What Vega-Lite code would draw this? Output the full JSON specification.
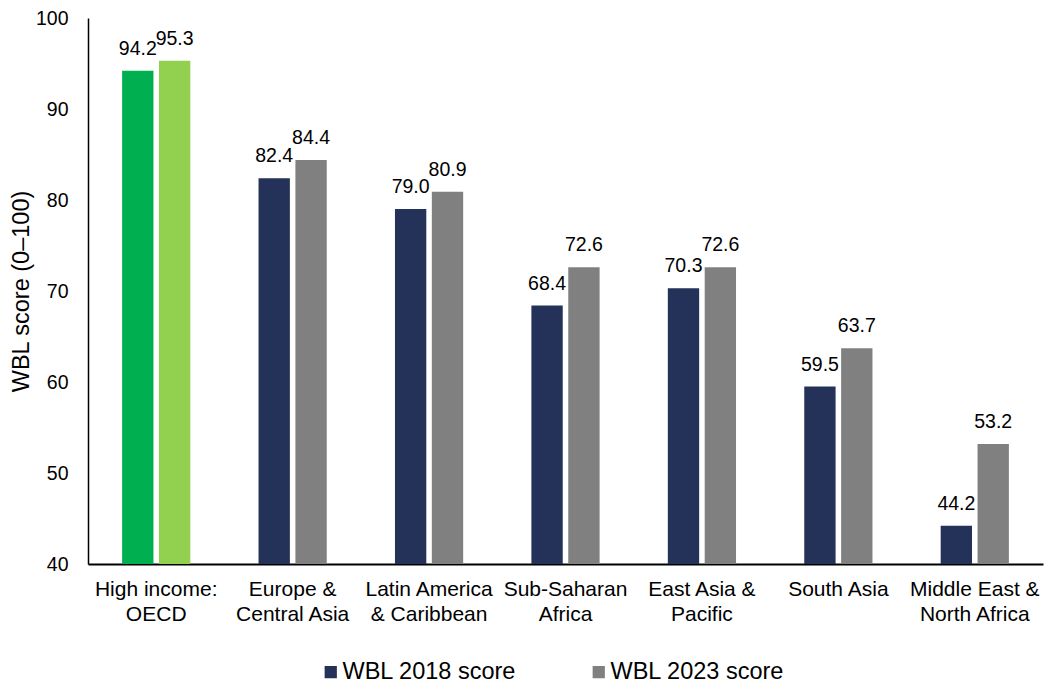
{
  "$schema": "https://vega.github.io/schema/vega-lite/v6.json",
  "width": 955,
  "height": 546,
  "autosize": {"type": "none"},
  "padding": {"left": 88, "top": 18, "right": 3, "bottom": 121},
  "background": "white",
  "config": {
    "font": "Liberation Sans",
    "view": {"stroke": null}
  },
  "data": {
    "values": [
      {"region": "High income: OECD", "series": "WBL 2018 score", "score": 94.2},
      {"region": "High income: OECD", "series": "WBL 2023 score", "score": 95.3},
      {"region": "Europe & Central Asia", "series": "WBL 2018 score", "score": 82.4},
      {"region": "Europe & Central Asia", "series": "WBL 2023 score", "score": 84.4},
      {"region": "Latin America & Caribbean", "series": "WBL 2018 score", "score": 79.0},
      {"region": "Latin America & Caribbean", "series": "WBL 2023 score", "score": 80.9},
      {"region": "Sub-Saharan Africa", "series": "WBL 2018 score", "score": 68.4},
      {"region": "Sub-Saharan Africa", "series": "WBL 2023 score", "score": 72.6},
      {"region": "East Asia & Pacific", "series": "WBL 2018 score", "score": 70.3},
      {"region": "East Asia & Pacific", "series": "WBL 2023 score", "score": 72.6},
      {"region": "South Asia", "series": "WBL 2018 score", "score": 59.5},
      {"region": "South Asia", "series": "WBL 2023 score", "score": 63.7},
      {"region": "Middle East & North Africa", "series": "WBL 2018 score", "score": 44.2},
      {"region": "Middle East & North Africa", "series": "WBL 2023 score", "score": 53.2}
    ]
  },
  "encoding": {
    "x": {
      "field": "region",
      "type": "nominal",
      "sort": null,
      "scale": {"paddingInner": 0.5, "paddingOuter": 0.25},
      "axis": {
        "title": null,
        "labelAngle": 0,
        "labelFontSize": 21,
        "labelColor": "black",
        "labelLineHeight": 25,
        "labelPadding": 14,
        "labelExpr": "{'High income: OECD': ['High income:', 'OECD'], 'Europe & Central Asia': ['Europe &', 'Central Asia'], 'Latin America & Caribbean': ['Latin America', '& Caribbean'], 'Sub-Saharan Africa': ['Sub-Saharan', 'Africa'], 'East Asia & Pacific': ['East Asia &', 'Pacific'], 'South Asia': ['South Asia'], 'Middle East & North Africa': ['Middle East &', 'North Africa']}[datum.value]",
        "ticks": false,
        "domainColor": "black",
        "domainWidth": 2,
        "labelLimit": 200
      }
    },
    "xOffset": {
      "field": "series",
      "type": "nominal",
      "scale": {"paddingInner": 0.15}
    },
    "y": {
      "field": "score",
      "type": "quantitative",
      "scale": {"domain": [40, 100], "zero": false},
      "axis": {
        "title": "WBL score (0–100)",
        "titleFontSize": 23.5,
        "titleFontWeight": "normal",
        "titleColor": "black",
        "titlePadding": 2,
        "values": [40, 50, 60, 70, 80, 90, 100],
        "grid": false,
        "ticks": false,
        "labelFontSize": 19.5,
        "labelColor": "black",
        "labelPadding": 20,
        "domainColor": "black",
        "domainWidth": 1.5
      }
    }
  },
  "layer": [
    {
      "mark": {"type": "bar"},
      "encoding": {
        "y2": {"datum": 40},
        "color": {
          "field": "series",
          "type": "nominal",
          "scale": {
            "domain": ["WBL 2018 score", "WBL 2023 score"],
            "range": ["#243259", "#808080"]
          },
          "condition": [
            {"test": "datum.region === 'High income: OECD' && datum.series === 'WBL 2018 score'", "value": "#00B050"},
            {"test": "datum.region === 'High income: OECD' && datum.series === 'WBL 2023 score'", "value": "#92D050"}
          ],
          "legend": {
            "title": null,
            "orient": "none",
            "direction": "horizontal",
            "legendX": 231,
            "legendY": 642,
            "symbolType": "square",
            "symbolSize": 150,
            "symbolStrokeWidth": 0,
            "labelFontSize": 23.5,
            "labelColor": "black",
            "labelOffset": 0,
            "columnPadding": 70,
            "labelLimit": 300
          }
        }
      }
    },
    {
      "mark": {
        "type": "text",
        "baseline": "alphabetic",
        "align": "center",
        "dy": -16,
        "fontSize": 19.5,
        "color": "black"
      },
      "encoding": {
        "text": {"field": "score", "type": "quantitative", "format": ".1f"}
      }
    }
  ]
}
